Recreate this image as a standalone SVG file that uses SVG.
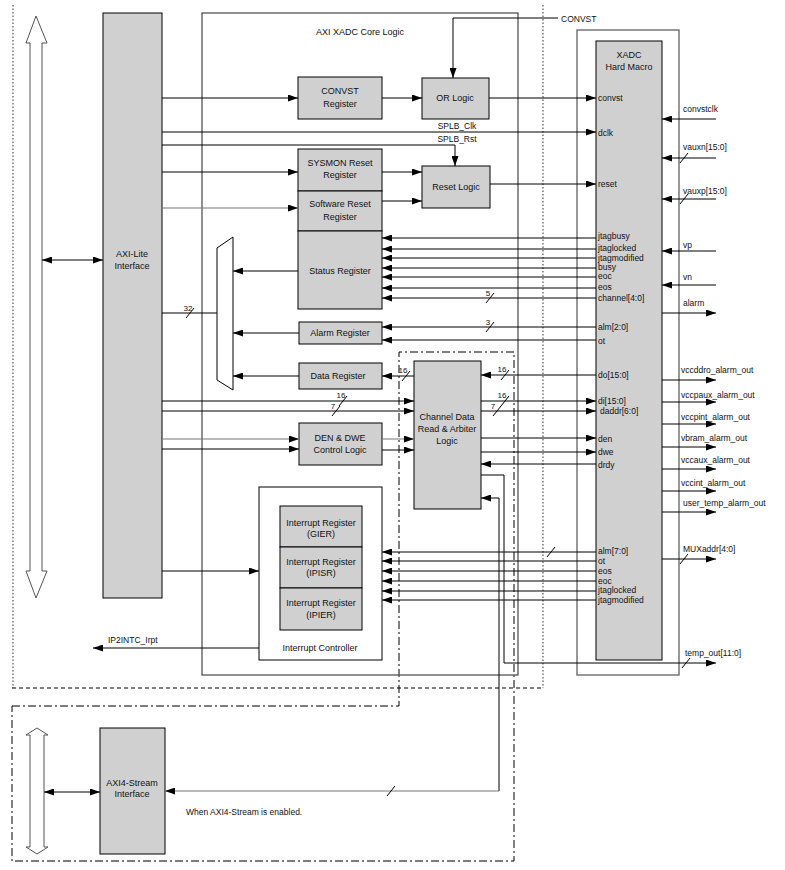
<svg xmlns="http://www.w3.org/2000/svg" width="785" height="870" viewBox="0 0 785 870">
<defs>
<marker id="a" viewBox="0 0 10 7" refX="10" refY="3.5" markerWidth="10" markerHeight="7" markerUnits="userSpaceOnUse" orient="auto-start-reverse"><path d="M0,0 L10,3.5 L0,7 z" fill="#000"/></marker>
</defs>
<style>
text{font-family:"Liberation Sans",Arial,sans-serif;fill:#111}
.b{font-size:9px;text-anchor:middle}
.p{font-size:8.5px}
.n{font-size:8px;text-anchor:middle}
.box{fill:#d0d0d0;stroke:#000;stroke-width:1}
.w{fill:#fff;stroke:#000;stroke-width:1}
.c path{fill:none;stroke:#000;stroke-width:1}
.c .g{stroke:#777}
.c path.ar{marker-end:url(#a)}
.c path.bi{marker-start:url(#a);marker-end:url(#a)}
.s{stroke:#000;stroke-width:1}
</style>
<rect width="785" height="870" fill="#fff"/>
<!-- regions -->
<g id="regions" fill="none">
<path d="M13,5 V688 M543,5 V688" stroke="#555" stroke-width="1.2" stroke-dasharray="1.5,2"/>
<path d="M12,688 H543" stroke="#000" stroke-dasharray="4,3"/>
<path d="M12,706 H399 V352 H514 V861 H12 Z" stroke="#000" stroke-dasharray="8,3,2,3"/>
<rect x="202" y="13" width="316" height="662" stroke="#555" stroke-width="1.3"/>
<text class="b" x="360" y="35">AXI XADC Core Logic</text>
<rect x="577" y="30" width="102" height="645" stroke="#777" stroke-width="1.5"/>
</g>
<!-- bus arrows -->
<g id="bus-axi-lite">
<polygon points="36,16 47,43 42,43 42,571 47,571 36,598 26,571 30,571 30,43 26,43" fill="#fff" stroke="#555" stroke-width="1"/>
</g>
<g id="bus-axi-stream">
<polygon points="37,728 48,735 44,735 44,847 48,847 37,854 26,847 30,847 30,735 26,735" fill="#fff" stroke="#555" stroke-width="1"/>
</g>
<!-- nodes -->
<g id="axi-lite"><rect class="box" x="103" y="13" width="59" height="585"/><text class="b" x="132" y="257">AXI-Lite</text><text class="b" x="132" y="269">Interface</text></g>
<g id="convst-reg"><rect class="box" x="298" y="77" width="84" height="42"/><text class="b" x="340" y="94">CONVST</text><text class="b" x="340" y="107">Register</text></g>
<g id="or-logic"><rect class="box" x="422" y="78" width="67" height="41"/><text class="b" x="455" y="101">OR Logic</text></g>
<g id="sysmon-reset"><rect class="box" x="298" y="149" width="84" height="42"/><text class="b" x="340" y="166">SYSMON Reset</text><text class="b" x="340" y="178">Register</text></g>
<g id="sw-reset"><rect class="box" x="298" y="191" width="84" height="40"/><text class="b" x="340" y="207">Software Reset</text><text class="b" x="340" y="220">Register</text></g>
<g id="reset-logic"><rect class="box" x="422" y="166" width="68" height="42"/><text class="b" x="456" y="190">Reset Logic</text></g>
<g id="status-reg"><rect class="box" x="298" y="231" width="84" height="78"/><text class="b" x="340" y="274">Status Register</text></g>
<g id="alarm-reg"><rect class="box" x="299" y="322" width="83" height="22"/><text class="b" x="340" y="336">Alarm Register</text></g>
<g id="data-reg"><rect class="box" x="299" y="363" width="83" height="26"/><text class="b" x="338" y="379">Data Register</text></g>
<g id="mux"><polygon class="w" points="217,248 233,237 233,390 217,380"/></g>
<g id="den-dwe"><rect class="box" x="299" y="423" width="83" height="42"/><text class="b" x="340" y="441">DEN &amp; DWE</text><text class="b" x="340" y="453">Control Logic</text></g>
<g id="channel-data"><rect class="box" x="414" y="361" width="67" height="148"/><text class="b" x="447" y="420">Channel Data</text><text class="b" x="447" y="432">Read &amp; Arbiter</text><text class="b" x="447" y="444">Logic</text></g>
<g id="interrupt-controller"><rect class="w" x="259" y="487" width="123" height="173"/><text class="b" x="320" y="651">Interrupt Controller</text></g>
<g id="gier"><rect class="box" x="280" y="506" width="82" height="41"/><text class="b" x="321" y="526">Interrupt Register</text><text class="b" x="321" y="537">(GIER)</text></g>
<g id="ipisr"><rect class="box" x="280" y="547" width="82" height="41"/><text class="b" x="321" y="565">Interrupt Register</text><text class="b" x="321" y="576">(IPISR)</text></g>
<g id="ipier"><rect class="box" x="280" y="588" width="82" height="42"/><text class="b" x="321" y="606">Interrupt Register</text><text class="b" x="321" y="618">(IPIER)</text></g>
<g id="xadc"><rect class="box" x="596" y="41" width="66" height="619"/><text class="b" x="629" y="58">XADC</text><text class="b" x="629" y="70">Hard Macro</text>
<g class="p">
<text x="598" y="101">convst</text><text x="598" y="136">dclk</text><text x="598" y="187">reset</text>
<text x="598" y="239">jtagbusy</text><text x="598" y="251">jtaglocked</text><text x="598" y="261">jtagmodified</text><text x="598" y="270">busy</text><text x="598" y="279">eoc</text><text x="598" y="290">eos</text><text x="598" y="301">channel[4:0]</text>
<text x="598" y="330">alm[2:0]</text><text x="598" y="344">ot</text><text x="598" y="378">do[15:0]</text><text x="598" y="404">di[15:0]</text><text x="600" y="414">daddr[6:0]</text>
<text x="598" y="442">den</text><text x="598" y="455">dwe</text><text x="598" y="468">drdy</text>
<text x="598" y="554">alm[7:0]</text><text x="598" y="564">ot</text><text x="598" y="574">eos</text><text x="598" y="584">eoc</text><text x="598" y="593">jtaglocked</text><text x="598" y="603">jtagmodified</text>
</g></g>
<g id="axi4-stream"><rect class="box" x="100" y="728" width="65" height="126"/><text class="b" x="132" y="786">AXI4-Stream</text><text class="b" x="132" y="797">Interface</text></g>
<!-- connectors -->
<g id="connectors" class="c">
<path class="bi" d="M42,260 H103"/>
<path class="bi" d="M44,792 H100"/>
<path class="ar" d="M162,98 H298"/>
<path class="ar" d="M382,98 H422"/>
<path class="ar" d="M558,18 H453 V78"/>
<path class="ar" d="M489,98 H596"/>
<path class="ar" d="M162,132 H596"/>
<path class="ar" d="M162,145 H455 V166"/>
<path class="ar" d="M162,172 H298"/>
<path class="ar g" d="M162,208 H298"/>
<path class="ar" d="M382,172 H422"/>
<path class="ar" d="M382,201 H422"/>
<path class="ar" d="M490,184 H596"/>
<path class="ar" d="M596,238 H382"/>
<path class="ar" d="M596,249 H382"/>
<path class="ar" d="M596,258 H382"/>
<path class="ar" d="M596,268 H382"/>
<path class="ar" d="M596,277 H382"/>
<path class="ar" d="M596,288 H382"/>
<path class="ar" d="M596,298 H382"/>
<path class="ar" d="M596,327 H382"/>
<path class="ar" d="M596,340 H382"/>
<path class="ar" d="M596,375 H481"/>
<path class="ar" d="M414,376 H382"/>
<path class="ar" d="M298,271 H233"/>
<path class="ar" d="M299,333 H233"/>
<path class="ar" d="M299,376 H233"/>
<path d="M217,313 H162"/>
<path class="ar" d="M162,401 H414"/>
<path class="ar" d="M162,411 H414"/>
<path class="ar" d="M481,401 H596"/>
<path class="ar" d="M481,411 H596"/>
<path class="ar g" d="M162,439 H299"/>
<path class="ar" d="M162,449 H299"/>
<path class="ar g" d="M382,439 H414"/>
<path class="ar" d="M382,450 H414"/>
<path class="ar" d="M481,438 H596"/>
<path class="ar" d="M481,452 H596"/>
<path class="ar" d="M596,464 H481"/>
<path class="ar" d="M481,475 H504 V663 H716"/>
<path class="ar" d="M499,791 V498 H481"/>
<path class="ar g" d="M499,791 H165"/>
<path class="ar" d="M162,571 H259"/>
<path class="ar" d="M259,648 H93"/>
<path class="ar" d="M596,552 H382"/>
<path class="ar" d="M596,561 H382"/>
<path class="ar" d="M596,571 H382"/>
<path class="ar" d="M596,581 H382"/>
<path class="ar" d="M596,591 H382"/>
<path class="ar" d="M596,600 H382"/>
<path class="ar" d="M716,119 H662"/>
<path class="ar" d="M716,158 H662"/>
<path class="ar" d="M716,199 H662"/>
<path class="ar" d="M716,251 H662"/>
<path class="ar" d="M716,285 H662"/>
<path class="ar" d="M662,313 H716"/>
<path class="ar" d="M662,380 H716"/>
<path class="ar" d="M662,402 H716"/>
<path class="ar" d="M662,424 H716"/>
<path class="ar" d="M662,447 H716"/>
<path class="ar" d="M662,469 H716"/>
<path class="ar" d="M662,491 H716"/>
<path class="ar" d="M662,512 H716"/>
<path class="ar" d="M662,559 H716"/>
<!-- bus slashes -->
<path d="M486,303 L494,293 M486,332 L494,322 M186,318 L194,308 M402,381 L410,371 M501,380 L509,370 M339,406 L347,396 M332,416 L340,406 M501,406 L509,396 M493,416 L501,406 M547,557 L555,547 M387,796 L395,786 M680,163 L688,153 M680,204 L688,194 M680,564 L688,554 M682,668 L690,658"/>
</g>
<g id="labels">
<text class="p" x="561" y="22">CONVST</text>
<text class="p" x="457" y="129" text-anchor="middle">SPLB_Clk</text>
<text class="p" x="457" y="142" text-anchor="middle">SPLB_Rst</text>
<text class="n" x="488" y="296">5</text>
<text class="n" x="488" y="325">3</text>
<text class="n" x="188" y="311">32</text>
<text class="n" x="403" y="373">16</text>
<text class="n" x="502" y="372">16</text>
<text class="n" x="341" y="398">16</text>
<text class="n" x="333" y="409">7</text>
<text class="n" x="502" y="398">16</text>
<text class="n" x="493" y="409">7</text>
<g class="p">
<text x="683" y="112">convstclk</text><text x="683" y="150">vauxn[15:0]</text><text x="683" y="194">vauxp[15:0]</text><text x="683" y="248">vp</text><text x="683" y="280">vn</text><text x="683" y="306">alarm</text>
<text x="681" y="373">vccddro_alarm_out</text><text x="681" y="398">vccpaux_alarm_out</text><text x="681" y="420">vccpint_alarm_out</text><text x="681" y="441">vbram_alarm_out</text><text x="681" y="463">vccaux_alarm_out</text><text x="681" y="486">vccint_alarm_out</text><text x="683" y="506">user_temp_alarm_out</text>
<text x="683" y="552">MUXaddr[4:0]</text><text x="685" y="656">temp_out[11:0]</text>
<text x="108" y="643">IP2INTC_Irpt</text>
<text x="186" y="815">When AXI4-Stream is enabled.</text>
</g>
</g>
</svg>
